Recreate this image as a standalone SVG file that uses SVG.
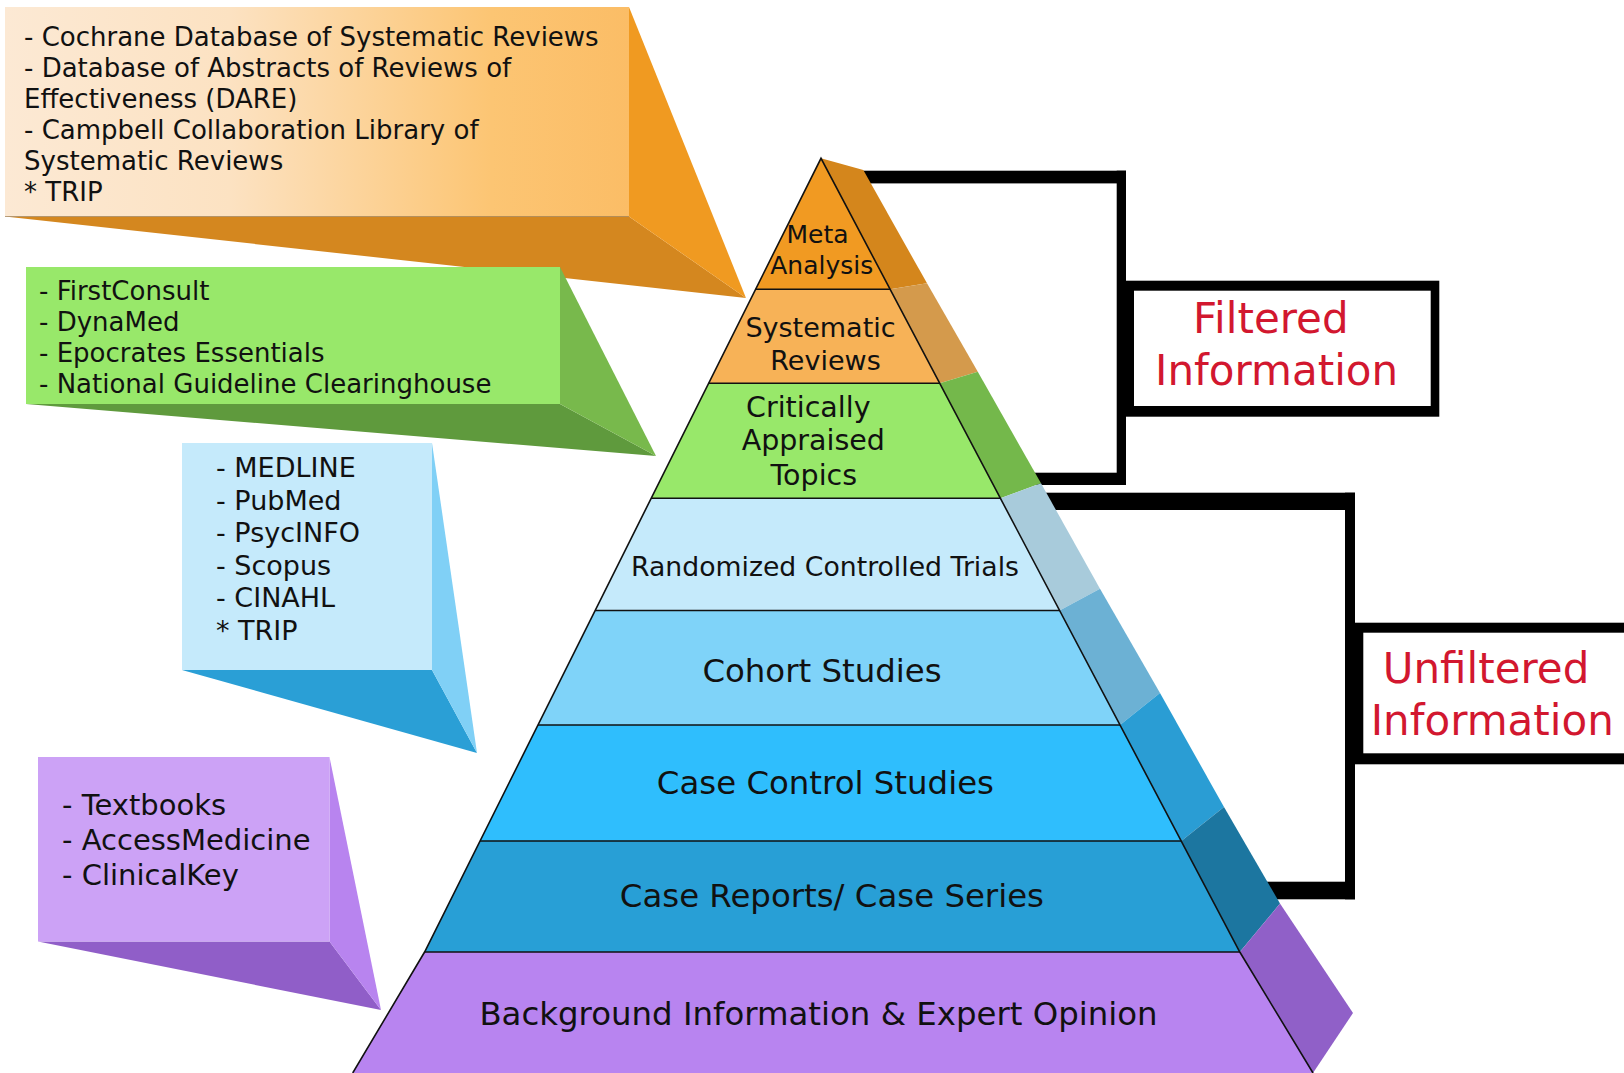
<svg xmlns="http://www.w3.org/2000/svg" width="1624" height="1073" viewBox="0 0 1624 1073">
<defs>
<linearGradient id="gOrange" x1="5" y1="0" x2="629" y2="0" gradientUnits="userSpaceOnUse">
<stop offset="0" stop-color="#fce9d4"/>
<stop offset="0.36" stop-color="#fce2c2"/>
<stop offset="0.78" stop-color="#fcc573"/>
<stop offset="1" stop-color="#fbbd66"/>
</linearGradient>
<style>
text{font-family:"DejaVu Sans","Liberation Sans",sans-serif;fill:#111}
.c26{font-size:26px}
.c27{font-size:27px}
.c29{font-size:29px}
.red{fill:#d2172f;font-size:42px}
.sep{stroke:#111;stroke-width:1.6;fill:none}
.mid{text-anchor:middle}
.blk{fill:#000}
</style>
</defs>
<rect width="1624" height="1073" fill="#fff"/>

<!-- Callouts -->
<g id="callout-orange">
<polygon points="5,216.5 629,216.5 746,298" fill="#d4871f"/>
<polygon points="629,7 746,298 629,216.5" fill="#f09a21"/>
<rect x="5" y="7" width="624" height="209.5" fill="url(#gOrange)"/>
<line x1="5" y1="216.5" x2="629" y2="216.5" stroke="#8a6a40" stroke-width="1" stroke-opacity="0.6"/>
<text class="c26" x="24" y="46">- Cochrane Database of Systematic Reviews</text>
<text class="c26" x="24" y="77">- Database of Abstracts of Reviews of</text>
<text class="c26" x="24" y="108">Effectiveness (DARE)</text>
<text class="c26" x="24" y="139">- Campbell Collaboration Library of</text>
<text class="c26" x="24" y="170">Systematic Reviews</text>
<text class="c26" x="24" y="201">* TRIP</text>
</g>
<g id="callout-green">
<polygon points="26,404 560,404 656,456" fill="#5f9a3d"/>
<polygon points="560,267 656,456 560,404" fill="#78b94c"/>
<rect x="26" y="267" width="534" height="137" fill="#98e86a"/>
<text class="c26" x="39" y="300">- FirstConsult</text>
<text class="c26" x="39" y="331">- DynaMed</text>
<text class="c26" x="39" y="362">- Epocrates Essentials</text>
<text class="c26" x="39" y="393">- National Guideline Clearinghouse</text>
</g>
<g id="callout-blue">
<polygon points="182,670 432,670 477,753" fill="#2a9fd6"/>
<polygon points="432,443 477,753 432,670" fill="#80d0f6"/>
<rect x="182" y="443" width="250" height="227" fill="#c5eafb"/>
<text class="c27" x="216" y="477">- MEDLINE</text>
<text class="c27" x="216" y="510">- PubMed</text>
<text class="c27" x="216" y="542">- PsycINFO</text>
<text class="c27" x="216" y="575">- Scopus</text>
<text class="c27" x="216" y="607">- CINAHL</text>
<text class="c27" x="216" y="640">* TRIP</text>
</g>
<g id="callout-purple">
<polygon points="38,941.5 329.5,941.5 381,1010" fill="#905ec8"/>
<polygon points="329.5,757 381,1010 329.5,941.5" fill="#b884ef"/>
<rect x="38" y="757" width="291.5" height="184.5" fill="#cca2f6"/>
<text class="c29" x="62" y="815">- Textbooks</text>
<text class="c29" x="62" y="850">- AccessMedicine</text>
<text class="c29" x="62" y="884.5">- ClinicalKey</text>
</g>

<!-- Connectors (brackets) -->
<g id="connectors">
<rect class="blk" x="850" y="170.7" width="276" height="12.7"/>
<rect class="blk" x="1116.7" y="170.7" width="9.3" height="314.3"/>
<rect class="blk" x="1000" y="472.7" width="126" height="12.3"/>
<rect class="blk" x="1030" y="492.7" width="325" height="17.3"/>
<rect class="blk" x="1345" y="492.7" width="10" height="406.6"/>
<rect class="blk" x="1250" y="881.7" width="105" height="17.6"/>
</g>

<!-- Label boxes -->
<g id="label-filtered">
<rect class="blk" x="1126" y="280.7" width="313.3" height="136"/>
<rect x="1134" y="290.7" width="296.7" height="115.3" fill="#fff"/>
<text class="red" x="1193" y="333.3">Filtered</text>
<text class="red" x="1155" y="385">Information</text>
</g>
<g id="label-unfiltered">
<rect class="blk" x="1355" y="622.7" width="280" height="141.6"/>
<rect x="1363.3" y="632.7" width="280" height="120.6" fill="#fff"/>
<text class="red" x="1382.7" y="683.3">Unfiltered</text>
<text class="red" x="1370.7" y="735">Information</text>
</g>

<!-- Pyramid -->
<g id="tier-meta">
<polygon points="821,158.3 890.1,289.3 755.6,289.3" fill="#f19a22"/>
<polygon points="821,158.3 863.3,170 927,283.3 890.1,289.3" fill="#d4861c"/>
<text class="mid" style="font-size:25px" x="817.5" y="243.3">Meta</text>
<text class="mid" style="font-size:25px" x="821.7" y="274">Analysis</text>
</g>
<g id="tier-systematic">
<polygon points="755.6,289.3 890.1,289.3 939.7,383.3 708.6,383.3" fill="#f7b257"/>
<polygon points="890.1,289.3 927,283.3 977.8,371.7 939.7,383.3" fill="#d49a4c"/>
<text class="mid" style="font-size:27px" x="820.5" y="336.7">Systematic</text>
<text class="mid" style="font-size:27px" x="825.5" y="370">Reviews</text>
</g>
<g id="tier-cat">
<polygon points="708.6,383.3 939.7,383.3 1000.4,498.3 651.2,498.3" fill="#98e86a"/>
<polygon points="939.7,383.3 977.8,371.7 1041,483.3 1000.4,498.3" fill="#74b84b"/>
<text class="mid" style="font-size:28.5px" x="808.3" y="416.7">Critically</text>
<text class="mid" style="font-size:28.5px" x="813.3" y="450">Appraised</text>
<text class="mid" style="font-size:28.5px" x="813.8" y="485">Topics</text>
</g>
<g id="tier-rct">
<polygon points="651.2,498.3 1000.4,498.3 1059.6,610.5 595.2,610.5" fill="#c5eafb"/>
<polygon points="1000.4,498.3 1041,483.3 1100,588.7 1059.6,610.5" fill="#a8cbdb"/>
<text class="mid" style="font-size:26.7px" x="825" y="576.4">Randomized Controlled Trials</text>
</g>
<g id="tier-cohort">
<polygon points="595.2,610.5 1059.6,610.5 1120,725 538,725" fill="#7fd3f9"/>
<polygon points="1059.6,610.5 1100,588.7 1160,693 1120,725" fill="#6cb1d4"/>
<text class="mid" style="font-size:32.4px" x="822" y="682.3">Cohort Studies</text>
</g>
<g id="tier-casecontrol">
<polygon points="538,725 1120,725 1181.3,841 480.1,841" fill="#2fbefd"/>
<polygon points="1120,725 1160,693 1224,807 1181.3,841" fill="#2a9dd4"/>
<text class="mid" style="font-size:32.4px" x="825.4" y="793.9">Case Control Studies</text>
</g>
<g id="tier-casereports">
<polygon points="480.1,841 1181.3,841 1239.8,952 424.6,952" fill="#289fd6"/>
<polygon points="1181.3,841 1224,807 1280,903.6 1239.8,952" fill="#1c76a0"/>
<text class="mid" style="font-size:32.4px" x="831.9" y="907.4">Case Reports/ Case Series</text>
</g>
<g id="tier-background">
<polygon points="424.6,952 1239.8,952 1313,1073 352.7,1073" fill="#b884f0"/>
<polygon points="1239.8,952 1280,903.6 1353,1013 1313,1073" fill="#9060c8"/>
<text class="mid" style="font-size:32.4px" x="818.5" y="1024.6">Background Information &amp; Expert Opinion</text>
</g>
<g id="pyramid-lines">
<polyline class="sep" points="352.7,1073 424.6,952 821,158.3 1239.8,952 1313,1073"/>
<line class="sep" x1="755.6" y1="289.3" x2="890.1" y2="289.3"/>
<line class="sep" x1="708.6" y1="383.3" x2="939.7" y2="383.3"/>
<line class="sep" x1="651.2" y1="498.3" x2="1000.4" y2="498.3"/>
<line class="sep" x1="595.2" y1="610.5" x2="1059.6" y2="610.5"/>
<line class="sep" x1="538" y1="725" x2="1120" y2="725"/>
<line class="sep" x1="480.1" y1="841" x2="1181.3" y2="841"/>
<line class="sep" x1="424.6" y1="952" x2="1239.8" y2="952"/>
</g>
</svg>
